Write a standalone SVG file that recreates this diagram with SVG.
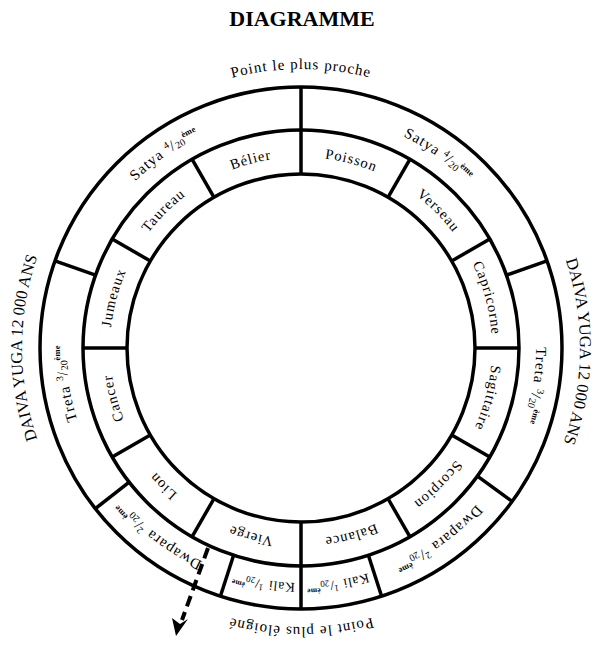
<svg xmlns="http://www.w3.org/2000/svg" xmlns:xlink="http://www.w3.org/1999/xlink" width="605" height="656" viewBox="0 0 605 656">
<style>
  text { font-family: "Liberation Serif", "Times New Roman", serif; fill: #000; }
  .title { font-size: 22px; font-weight: bold; }
  .outer { font-size: 15px; letter-spacing: 1px; }
  .yuga { font-size: 16.5px; letter-spacing: 0; }
  .zod { font-size: 14.5px; letter-spacing: 1px; }
  .era { font-size: 15px; letter-spacing: 1px; }
  .kali { font-size: 13.5px; letter-spacing: 0.8px; }
  .num { font-size: 10px; letter-spacing: 0; }
  .kali .num { font-size: 9px; }
  .eme { font-size: 8.5px; font-weight: bold; letter-spacing: 0; }
  .kali .eme { font-size: 7.5px; }
  .ring { fill: none; stroke: #000; stroke-width: 3.5; }
  .div { stroke: #000; stroke-width: 3.5; stroke-linecap: butt; }
</style>
<defs>
  <path id="pZod" d="M301,539 A191,191 0 1 1 301,157 A191,191 0 1 1 301,539"/>
  <path id="pEra" d="M301,113 A235,235 0 1 1 301,583 A235,235 0 1 1 301,113"/>
  <path id="pOutT" d="M301,69 A279,279 0 1 1 301,627 A279,279 0 1 1 301,69"/>
  <path id="pOutB" d="M301,627 A279,279 0 1 1 301,69 A279,279 0 1 1 301,627"/>
</defs>
<rect width="605" height="656" fill="#fff"/>
<text class="title" x="302" y="26" text-anchor="middle">DIAGRAMME</text>

<g id="rings">
  <circle class="ring" cx="301" cy="348" r="261"/>
  <circle class="ring" cx="301" cy="348" r="218"/>
  <circle class="ring" cx="301" cy="348" r="174"/>
</g>

<g id="connectors">
  <line class="div" x1="301" y1="174" x2="301" y2="87"/>
  <line class="div" x1="301" y1="522" x2="301" y2="609"/>
  <line class="div" x1="388" y1="197.3" x2="410" y2="159.2"/>
  <line class="div" x1="451.7" y1="261" x2="489.8" y2="239"/>
  <line class="div" x1="475" y1="348" x2="519" y2="348"/>
  <line class="div" x1="451.7" y1="435" x2="489.8" y2="457"/>
  <line class="div" x1="388" y1="498.7" x2="410" y2="536.8"/>
  <line class="div" x1="214" y1="498.7" x2="192" y2="536.8"/>
  <line class="div" x1="150.3" y1="435" x2="112.2" y2="457"/>
  <line class="div" x1="127" y1="348" x2="83" y2="348"/>
  <line class="div" x1="150.3" y1="261" x2="112.2" y2="239"/>
  <line class="div" x1="214" y1="197.3" x2="192" y2="159.2"/>
  <line class="div" x1="506.5" y1="275.2" x2="547" y2="260.9"/>
  <line class="div" x1="477.4" y1="476.1" x2="512.1" y2="501.4"/>
  <line class="div" x1="368.4" y1="555.3" x2="381.6" y2="596.2"/>
  <line class="div" x1="95.5" y1="275.2" x2="55" y2="260.9"/>
  <line class="div" x1="129.2" y1="482.2" x2="95.3" y2="508.7"/>
  <line class="div" x1="233.6" y1="555.3" x2="220.4" y2="596.2"/>
</g>

<g id="zodiac">
  <g id="belier"><text class="zod" text-anchor="middle"><textPath xlink:href="#pZod" href="#pZod" startOffset="45.833%">Bélier</textPath></text></g>
  <g id="poisson"><text class="zod" text-anchor="middle"><textPath xlink:href="#pZod" href="#pZod" startOffset="54.167%">Poisson</textPath></text></g>
  <g id="taureau"><text class="zod" text-anchor="middle"><textPath xlink:href="#pZod" href="#pZod" startOffset="37.5%">Taureau</textPath></text></g>
  <g id="verseau"><text class="zod" text-anchor="middle"><textPath xlink:href="#pZod" href="#pZod" startOffset="62.5%">Verseau</textPath></text></g>
  <g id="jumeaux"><text class="zod" text-anchor="middle"><textPath xlink:href="#pZod" href="#pZod" startOffset="29.167%">Jumeaux</textPath></text></g>
  <g id="capricorne"><text class="zod" text-anchor="middle"><textPath xlink:href="#pZod" href="#pZod" startOffset="70.833%">Capricorne</textPath></text></g>
  <g id="cancer"><text class="zod" text-anchor="middle"><textPath xlink:href="#pZod" href="#pZod" startOffset="20.833%">Cancer</textPath></text></g>
  <g id="sagittaire"><text class="zod" text-anchor="middle"><textPath xlink:href="#pZod" href="#pZod" startOffset="79.167%">Sagittaire</textPath></text></g>
  <g id="lion"><text class="zod" text-anchor="middle"><textPath xlink:href="#pZod" href="#pZod" startOffset="12.5%">Lion</textPath></text></g>
  <g id="scorpion"><text class="zod" text-anchor="middle"><textPath xlink:href="#pZod" href="#pZod" startOffset="87.5%">Scorpion</textPath></text></g>
  <g id="vierge"><text class="zod" text-anchor="middle"><textPath xlink:href="#pZod" href="#pZod" startOffset="4.167%">Vierge</textPath></text></g>
  <g id="balance"><text class="zod" text-anchor="middle"><textPath xlink:href="#pZod" href="#pZod" startOffset="95.833%">Balance</textPath></text></g>
</g>

<g id="eras">
  <g id="satya-r"><text class="era" text-anchor="middle"><textPath xlink:href="#pEra" href="#pEra" startOffset="9.8%">Satya <tspan class="num" dy="-5">4</tspan><tspan dy="5">/</tspan><tspan class="num" dy="1">20</tspan><tspan class="eme" dy="-7">ème</tspan></textPath></text></g>
  <g id="treta-r"><text class="era" text-anchor="middle"><textPath xlink:href="#pEra" href="#pEra" startOffset="27.5%">Treta <tspan class="num" dy="-5">3</tspan><tspan dy="5">/</tspan><tspan class="num" dy="1">20</tspan><tspan class="eme" dy="-7">ème</tspan></textPath></text></g>
  <g id="dwapara-r"><text class="era" text-anchor="middle"><textPath xlink:href="#pEra" href="#pEra" startOffset="40%">Dwapara <tspan class="num" dy="-5">2</tspan><tspan dy="5">/</tspan><tspan class="num" dy="1">20</tspan><tspan class="eme" dy="-7">ème</tspan></textPath></text></g>
  <g id="kali-r"><text class="era kali" text-anchor="middle"><textPath xlink:href="#pEra" href="#pEra" startOffset="47.5%">Kali <tspan class="num" dy="-5">1</tspan><tspan dy="5">/</tspan><tspan class="num" dy="1">20</tspan><tspan class="eme" dy="-7">ème</tspan></textPath></text></g>
  <g id="kali-l"><text class="era kali" text-anchor="middle"><textPath xlink:href="#pEra" href="#pEra" startOffset="52.5%">Kali <tspan class="num" dy="-5">1</tspan><tspan dy="5">/</tspan><tspan class="num" dy="1">20</tspan><tspan class="eme" dy="-7">ème</tspan></textPath></text></g>
  <g id="dwapara-l"><text class="era" text-anchor="middle"><textPath xlink:href="#pEra" href="#pEra" startOffset="60.3%">Dwapara <tspan class="num" dy="-5">2</tspan><tspan dy="5">/</tspan><tspan class="num" dy="1">20</tspan><tspan class="eme" dy="-7">ème</tspan></textPath></text></g>
  <g id="treta-l"><text class="era" text-anchor="middle"><textPath xlink:href="#pEra" href="#pEra" startOffset="72.6%">Treta <tspan class="num" dy="-5">3</tspan><tspan dy="5">/</tspan><tspan class="num" dy="1">20</tspan><tspan class="eme" dy="-7">ème</tspan></textPath></text></g>
  <g id="satya-l"><text class="era" text-anchor="middle"><textPath xlink:href="#pEra" href="#pEra" startOffset="90.2%">Satya <tspan class="num" dy="-5">4</tspan><tspan dy="5">/</tspan><tspan class="num" dy="1">20</tspan><tspan class="eme" dy="-7">ème</tspan></textPath></text></g>
</g>

<g id="outer-labels">
  <text class="outer" text-anchor="middle"><textPath xlink:href="#pOutB" href="#pOutB" startOffset="50%">Point le plus proche</textPath></text>
  <text class="outer" text-anchor="middle"><textPath xlink:href="#pOutT" href="#pOutT" startOffset="50%">Point le plus éloigné</textPath></text>
  <text class="yuga" text-anchor="middle"><textPath xlink:href="#pOutT" href="#pOutT" startOffset="25.2%">DAIVA YUGA 12 000 ANS</textPath></text>
  <text class="yuga" text-anchor="middle"><textPath xlink:href="#pOutT" href="#pOutT" startOffset="75%">DAIVA YUGA 12 000 ANS</textPath></text>
</g>

<g id="arrow">
  <line x1="208" y1="548" x2="182" y2="620" stroke="#000" stroke-width="4" stroke-dasharray="11,6"/>
  <polygon points="176,636 172,618 180,624 188,619" fill="#000"/>
</g>
</svg>
